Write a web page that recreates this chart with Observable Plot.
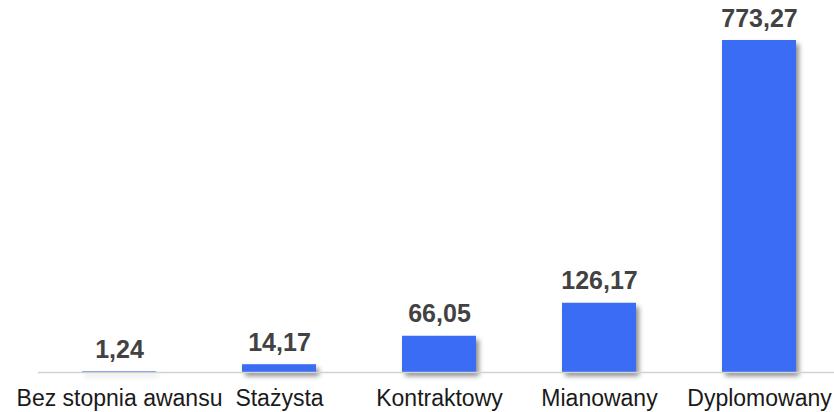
<!DOCTYPE html>
<html>
<head>
<meta charset="utf-8">
<script src="https://cdn.jsdelivr.net/npm/d3@7"></script>
<script src="https://cdn.jsdelivr.net/npm/@observablehq/plot@0.6"></script>
<style>
  html, body { margin: 0; padding: 0; background: #fff; }
  #chart svg { display: block; }
  #chart g[aria-label="bar"] rect { filter: drop-shadow(3px 4px 2.5px rgba(0,0,0,0.45)); }
</style>
</head>
<body>
<div id="chart"></div>
<script>
const categories = ["Bez stopnia awansu", "Stażysta", "Kontraktowy", "Mianowany", "Dyplomowany"];
const values = [1.24, 14.17, 66.05, 126.17, 773.27];
const valueLabels = ["1,24", "14,17", "66,05", "126,17", "773,27"];

const data = categories.map((c, i) => ({category: c, value: values[i], label: valueLabels[i]}));

const chart = Plot.plot({
  width: 834,
  height: 412,
  marginLeft: 38,
  marginRight: 0,
  marginTop: 40,
  marginBottom: 40,
  style: {fontFamily: "'Liberation Sans', Arial, sans-serif", background: "#fff"},
  x: {domain: categories, range: [0, 877], paddingInner: 0.539, paddingOuter: 0.5, label: null},
  y: {domain: [0, 605], clamp: true, axis: null},
  marks: [
    Plot.barY(data, {x: "category", y: "value", fill: "#3a6cf4"}),
    Plot.ruleY([0], {stroke: "#d2d2d2", strokeWidth: 1.6}),
    Plot.text(data, {x: "category", y: "value", text: "label", lineAnchor: "bottom", dy: -14,
      fontSize: 25, fontWeight: "bold", fill: "#424242"}),
    Plot.axisX({tickSize: 0, tickPadding: 17, fontSize: 23, color: "#1a1a1a", label: null})
  ]
});
document.getElementById("chart").appendChild(chart);
</script>
</body>
</html>
